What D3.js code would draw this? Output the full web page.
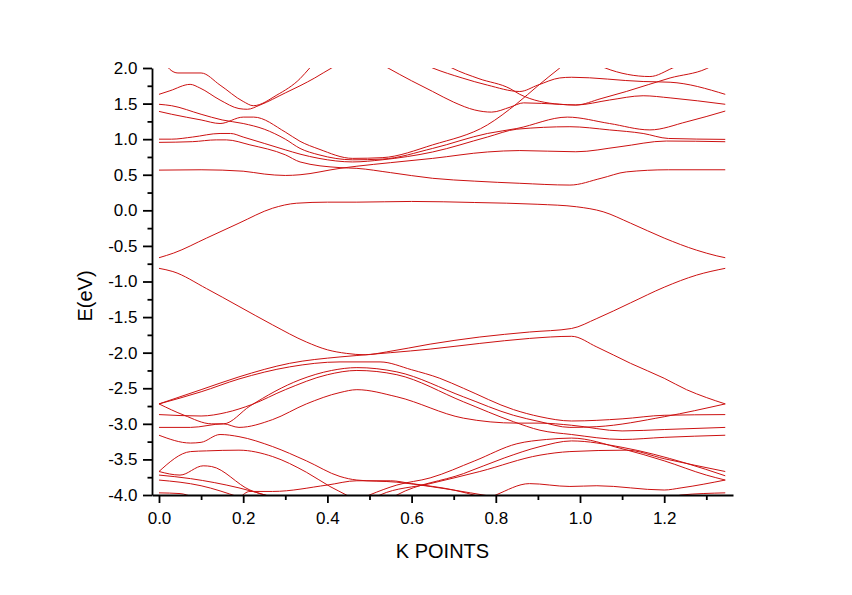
<!DOCTYPE html>
<html>
<head>
<meta charset="utf-8">
<script src="https://cdn.jsdelivr.net/npm/d3@7"></script>
<style>
  body { margin: 0; background: #fff; }
  svg { display: block; }
</style>
</head>
<body>
<div id="chart"></div>
<script>
// band energies, as [k, E(eV)] pairs
// conduction / valence edges
const bandValenceTop = [[0,-0.666],[0.035,-0.6],[0.113,-0.39],[0.19,-0.18],[0.27,0.03],[0.327,0.1],[0.4,0.115],[0.47,0.115],[0.6,0.125],[0.75,0.11],[0.9,0.085],[0.992,0.05],[1.055,-0.02],[1.12,-0.18],[1.2,-0.39],[1.277,-0.56],[1.325,-0.64],[1.345,-0.666]];
const bandCond1 = [[0,-0.815],[0.033,-0.86],[0.113,-1.1],[0.19,-1.35],[0.27,-1.61],[0.35,-1.85],[0.4,-1.96],[0.445,-2.01],[0.49,-2.03],[0.54,-1.99],[0.644,-1.88],[0.762,-1.78],[0.88,-1.71],[0.98,-1.66],[1.04,-1.52],[1.12,-1.3],[1.2,-1.08],[1.277,-0.91],[1.345,-0.815]];

// upper bands (0.3 .. 2 eV)
const bandU1 = [[0.012,2.08],[0.026,1.98],[0.045,1.93],[0.1,1.93],[0.145,1.76],[0.2,1.53],[0.224,1.47],[0.28,1.62],[0.335,1.85],[0.358,2.0],[0.37,2.08]];
const bandU2 = [[0,1.63],[0.026,1.68],[0.074,1.77],[0.097,1.72],[0.145,1.55],[0.19,1.43],[0.21,1.42],[0.24,1.48],[0.3,1.65],[0.335,1.75],[0.37,1.86],[0.41,2.0],[0.43,2.06]];
const bandU3 = [[0,1.49],[0.03,1.47],[0.1,1.35],[0.15,1.27],[0.2,1.22],[0.25,1.14],[0.3,1.0],[0.335,0.87],[0.38,0.78],[0.46,0.71],[0.53,0.72],[0.65,0.87],[0.78,1.08],[0.85,1.15],[0.97,1.31],[1.07,1.22],[1.166,1.13],[1.254,1.245],[1.345,1.395]];
const bandU4 = [[0,1.39],[0.03,1.35],[0.1,1.27],[0.145,1.22],[0.2,1.31],[0.225,1.31],[0.3,1.1],[0.335,0.97],[0.38,0.86],[0.46,0.73],[0.53,0.74],[0.65,0.92],[0.78,1.2],[0.85,1.5],[0.9,1.75],[0.952,2.0],[0.97,2.08]];
const bandU5 = [[0,1.0],[0.03,1.0],[0.08,1.03],[0.145,1.08],[0.17,1.08],[0.2,1.03],[0.3,0.85],[0.335,0.79],[0.38,0.73],[0.46,0.68],[0.53,0.71],[0.65,0.82],[0.78,1.03],[0.85,1.14],[0.976,1.175],[1.07,1.13],[1.15,1.08],[1.21,1.01],[1.345,0.997]];
const bandU6 = [[0,0.955],[0.08,0.965],[0.136,0.99],[0.16,0.99],[0.216,0.92],[0.3,0.78],[0.335,0.68],[0.43,0.6],[0.47,0.59],[0.55,0.53],[0.65,0.45],[0.75,0.41],[0.857,0.38],[0.976,0.355],[1.05,0.45],[1.11,0.54],[1.21,0.57],[1.345,0.57]];
const bandU7 = [[0,0.565],[0.1,0.57],[0.2,0.55],[0.25,0.51],[0.3,0.49],[0.335,0.5],[0.43,0.59],[0.47,0.62],[0.55,0.67],[0.65,0.73],[0.78,0.82],[0.857,0.84],[0.99,0.823],[1.095,0.894],[1.205,0.974],[1.345,0.964]];
const bandU8 = [[0.52,2.08],[0.544,2.0],[0.6,1.82],[0.65,1.67],[0.7,1.52],[0.75,1.41],[0.79,1.38],[0.834,1.45],[0.866,1.51],[0.952,1.49],[0.99,1.48],[1.07,1.55],[1.15,1.61],[1.214,1.58],[1.345,1.49]];
const bandU9 = [[0.63,2.05],[0.65,2.0],[0.72,1.86],[0.78,1.76],[0.857,1.67],[0.9,1.76],[0.952,1.86],[0.98,1.87],[1.15,1.81],[1.214,1.8],[1.345,1.63]];
const bandU10 = [[0.68,2.05],[0.696,2.0],[0.76,1.85],[0.834,1.71],[0.857,1.63],[0.952,1.49],[0.99,1.48],[1.05,1.57],[1.11,1.67],[1.214,1.86],[1.3,1.99],[1.32,2.05]];
const bandU11 = [[1.04,2.05],[1.06,2.0],[1.166,1.88],[1.22,2.0],[1.24,2.05]];

// lower bands (-2 .. -4 eV)
const bandL1 = [[0,-2.72],[0.1,-2.52],[0.19,-2.34],[0.31,-2.15],[0.43,-2.06],[0.47,-2.04],[0.55,-2.0],[0.644,-1.95],[0.762,-1.87],[0.88,-1.8],[0.98,-1.77],[1.04,-1.92],[1.12,-2.15],[1.2,-2.36],[1.253,-2.52],[1.3,-2.63],[1.345,-2.72]];
const bandL2 = [[0,-2.72],[0.1,-2.55],[0.19,-2.37],[0.31,-2.2],[0.43,-2.13],[0.525,-2.13],[0.6,-2.24],[0.667,-2.36],[0.723,-2.5],[0.842,-2.8],[0.905,-2.9],[0.98,-2.96],[1.1,-2.93],[1.2,-2.88],[1.345,-2.87]];
const bandL3 = [[0,-2.72],[0.06,-2.88],[0.125,-3.0],[0.153,-3.0],[0.216,-2.75],[0.335,-2.38],[0.41,-2.25],[0.47,-2.21],[0.565,-2.27],[0.723,-2.62],[0.842,-2.88],[0.905,-2.97],[0.976,-3.05],[1.04,-3.04],[1.2,-2.9],[1.345,-2.72]];
const bandL4 = [[0,-2.87],[0.1,-2.89],[0.16,-2.84],[0.22,-2.73],[0.3,-2.52],[0.4,-2.31],[0.47,-2.25],[0.565,-2.31],[0.723,-2.69],[0.842,-2.97],[0.905,-3.09],[0.98,-3.15],[1.1,-3.22],[1.2,-3.19],[1.345,-3.16]];
const bandL5 = [[0,-3.05],[0.075,-3.05],[0.153,-3.0],[0.19,-3.05],[0.27,-2.94],[0.35,-2.72],[0.43,-2.56],[0.47,-2.52],[0.565,-2.62],[0.723,-2.92],[0.85,-2.99],[0.905,-2.99],[0.98,-3.02],[1.1,-3.1],[1.2,-3.08],[1.345,-3.05]];
const bandL6 = [[0,-3.16],[0.075,-3.27],[0.1,-3.26],[0.145,-3.15],[0.19,-3.18],[0.27,-3.32],[0.35,-3.52],[0.43,-3.74],[0.47,-3.79],[0.565,-3.82],[0.644,-3.88],[0.74,-3.97],[0.8,-4.03]];
const bandL7 = [[0.48,-4.05],[0.5,-4.0],[0.565,-3.86],[0.644,-3.76],[0.75,-3.52],[0.85,-3.28],[0.92,-3.22],[0.98,-3.2],[1.1,-3.35],[1.2,-3.52],[1.3,-3.72],[1.345,-3.79]];
const bandL8 = [[0.51,-4.05],[0.525,-4.0],[0.644,-3.84],[0.762,-3.67],[0.905,-3.44],[0.976,-3.39],[1.11,-3.37],[1.2,-3.49],[1.345,-3.67]];
const bandL9 = [[0.55,-4.05],[0.565,-4.0],[0.723,-3.7],[0.82,-3.48],[0.905,-3.32],[0.98,-3.24],[1.1,-3.33],[1.25,-3.55],[1.345,-3.73]];
const bandL10 = [[0.78,-4.05],[0.8,-4.0],[0.88,-3.84],[0.976,-3.88],[1.04,-3.87],[1.2,-3.93],[1.24,-3.9],[1.345,-3.79]];
const bandL11 = [[1.22,-4.05],[1.24,-4.0],[1.345,-3.97]];
const bandL12 = [[0,-3.67],[0.05,-3.72],[0.105,-3.59],[0.125,-3.6],[0.216,-3.93],[0.27,-4.03]];
const bandL13 = [[0,-3.67],[0.075,-3.39],[0.113,-3.38],[0.19,-3.37],[0.27,-3.46],[0.35,-3.68],[0.406,-3.88],[0.445,-4.0],[0.46,-4.05]];
const bandL14 = [[0.19,-4.05],[0.216,-3.95],[0.27,-3.95],[0.4,-3.86],[0.47,-3.8],[0.55,-3.8],[0.6,-3.84],[0.7,-3.93],[0.76,-4.02]];
const bandL15 = [[0,-3.72],[0.075,-3.77],[0.19,-3.9],[0.27,-4.03]];
const bandL16 = [[0,-3.79],[0.1,-3.87],[0.19,-4.03]];
const bandL17 = [[0,-3.97],[0.05,-3.98],[0.08,-4.03]];

const bands = [bandValenceTop, bandCond1,
  bandU1, bandU2, bandU3, bandU4, bandU5, bandU6, bandU7, bandU8, bandU9, bandU10, bandU11,
  bandL1, bandL2, bandL3, bandL4, bandL5, bandL6, bandL7, bandL8, bandL9, bandL10,
  bandL11, bandL12, bandL13, bandL14, bandL15, bandL16, bandL17];

// ticks
const kMajor = [0, 0.2, 0.4, 0.6, 0.8, 1.0, 1.2];
const kMinor = [0.1, 0.3, 0.5, 0.7, 0.9, 1.1, 1.3];
const eMajor = [-4, -3.5, -3, -2.5, -2, -1.5, -1, -0.5, 0, 0.5, 1, 1.5, 2];
const eMinor = [-3.75, -3.25, -2.75, -2.25, -1.75, -1.25, -0.75, -0.25, 0.25, 0.75, 1.25, 1.75];

let width = 852, height = 595,
    plot = {left: 152, right: 733, top: 68, bottom: 495},
    font = "'Liberation Sans', Arial, sans-serif";

let x = d3.scaleLinear().domain([-0.0166, 1.3634]).range([plot.left, plot.right]);
let y = d3.scaleLinear().domain([-4, 2]).range([plot.bottom, plot.top]);

const svg = d3.select("#chart").append("svg")
    .attr("width", width)
    .attr("height", height)
    .style("background", "#fff");

svg.append("defs").append("clipPath").attr("id", "clip")
  .append("rect")
    .attr("x", plot.left).attr("y", plot.top)
    .attr("width", plot.right - plot.left)
    .attr("height", plot.bottom - plot.top);

let line = d3.line()
    .x(d => x(d[0]))
    .y(d => y(d[1]))
    .curve(d3.curveMonotoneX);

svg.append("g")
    .attr("clip-path", "url(#clip)")
  .selectAll("path")
  .data(bands)
  .join("path")
    .attr("d", line)
    .attr("fill", "none")
    .attr("stroke", "#cc1111")
    .attr("stroke-width", 1);

// axes
let styleAxis = g => {
  g.selectAll("line").attr("stroke", "#000").attr("stroke-width", 1.8);
  g.selectAll(".domain").attr("stroke", "#000").attr("stroke-width", 1.8);
  g.selectAll("text").attr("font-family", font).attr("font-size", 17).attr("fill", "#000");
};

svg.append("g")
    .attr("transform", `translate(${plot.left},0)`)
    .call(d3.axisLeft(y).tickValues(eMinor).tickSize(4.5).tickFormat(""))
    .call(g => g.select(".domain").remove())
    .call(styleAxis);

svg.append("g")
    .attr("transform", `translate(${plot.left},0)`)
    .call(d3.axisLeft(y).tickValues(eMajor).tickSize(9).tickSizeOuter(0)
        .tickPadding(5.5).tickFormat(d => d.toFixed(1)))
    .call(styleAxis);

svg.append("g")
    .attr("transform", `translate(0,${plot.bottom})`)
    .call(d3.axisBottom(x).tickValues(kMinor).tickSize(5).tickFormat(""))
    .call(g => g.select(".domain").remove())
    .call(styleAxis);

svg.append("g")
    .attr("transform", `translate(0,${plot.bottom})`)
    .call(d3.axisBottom(x).tickValues(kMajor).tickSize(8).tickSizeOuter(0)
        .tickPadding(9).tickFormat(d => d.toFixed(1)))
    .call(styleAxis);

// axis titles
svg.append("text")
    .attr("transform", "translate(92,296) rotate(-90)")
    .attr("text-anchor", "middle")
    .attr("font-family", font)
    .attr("font-size", 20)
    .text("E(eV)");

svg.append("text")
    .attr("x", 442.5)
    .attr("y", 557.5)
    .attr("text-anchor", "middle")
    .attr("font-family", font)
    .attr("font-size", 20)
    .text("K POINTS");
</script>
</body>
</html>
